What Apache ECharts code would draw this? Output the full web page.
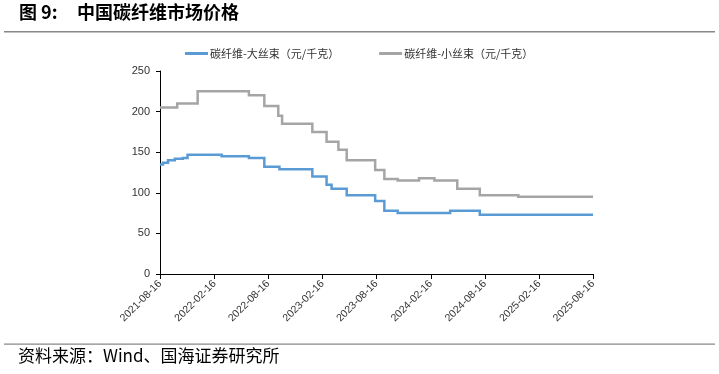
<!DOCTYPE html>
<html>
<head>
<meta charset="utf-8">
<script src="https://cdn.jsdelivr.net/npm/echarts@6/dist/echarts.min.js"></script>
<style>
html,body{margin:0;padding:0;background:#fff;}
#chart{width:719px;height:374px;}
</style>
</head>
<body>
<div id="chart"></div>
<script>
// Axis range and tick labels
var startDate = '2021-08-16';
var endDate = '2025-08-16';
var tickLabels = ['2021-08-16','2022-02-16','2022-08-16','2023-02-16','2023-08-16','2024-02-16','2024-08-16','2025-02-16','2025-08-16'];

// Series names
var seriesNames = ['碳纤维-大丝束（元/千克）', '碳纤维-小丝束（元/千克）'];
var seriesColors = ['#5B9BD5', '#A5A5A5'];

// Large tow (大丝束) price change points
var largeDates = ['2021-08-16','2021-08-26','2021-09-12','2021-10-05','2021-11-01','2021-11-17','2022-03-12','2022-06-12','2022-08-03','2022-09-23','2023-01-12','2023-03-01','2023-03-18','2023-05-08','2023-08-12','2023-09-12','2023-10-27','2024-04-21','2024-07-30','2025-08-16'];
var largeValues = [135,137,140,142,143,147,145,143,132,129,120,110,105,97,90,78,75,78,73,73];

// Small tow (小丝束) price change points
var smallDates = ['2021-08-16','2021-10-13','2021-12-21','2022-06-12','2022-08-03','2022-09-19','2022-10-02','2023-01-12','2023-03-01','2023-04-10','2023-05-08','2023-08-12','2023-09-12','2023-10-27','2024-01-07','2024-02-28','2024-05-15','2024-07-30','2024-12-07','2025-08-16'];
var smallValues = [205,210,225,220,207,195,185,175,163,153,140,128,117,115,118,115,105,97,95,95];

// daily category list for the date axis
function fmt(d){var m=d.getUTCMonth()+1, day=d.getUTCDate();return d.getUTCFullYear()+'-'+(m<10?'0':'')+m+'-'+(day<10?'0':'')+day;}
var categories = [];
(function(){
  var d = new Date(startDate+'T00:00:00Z'), e = new Date(endDate+'T00:00:00Z');
  while (d <= e) { categories.push(fmt(d)); d = new Date(d.getTime()+86400000); }
})();
var tickSet = {};
tickLabels.forEach(function(t){tickSet[t]=true;});
function isTick(idx, val){ return !!tickSet[val]; }

// step path through the change points (value holds until the next change date)
function stepCoords(ds, vs){
  var out = [];
  for (var i=0;i<ds.length;i++){
    var ix = categories.indexOf(ds[i]);
    if (i>0) out.push([ix, vs[i-1]]);
    out.push([ix, vs[i]]);
  }
  return out;
}

var chart = echarts.init(document.getElementById('chart'), null, {renderer:'canvas'});
var txtFont = 'Arial, "Liberation Sans", "Noto Sans CJK SC", sans-serif';
chart.setOption({
  animation:false,
  backgroundColor:'#fff',
  grid:{left:160, right:126, top:71, bottom:100, containLabel:false},
  legend:{
    top:43, left:180,
    itemWidth:23, itemHeight:3, itemGap:40,
    icon:'rect',
    itemStyle:{borderWidth:0},
    textStyle:{fontSize:11, color:'#333', fontFamily:'"Noto Sans CJK SC", sans-serif', padding:[0,0,0,-3]},
    data:[
      {name:seriesNames[0], itemStyle:{color:seriesColors[0], borderWidth:0}},
      {name:seriesNames[1], itemStyle:{color:seriesColors[1], borderWidth:0}}
    ]
  },
  xAxis:{
    type:'category',
    data:categories,
    boundaryGap:false,
    axisLine:{lineStyle:{color:'#000', width:1}},
    axisTick:{show:true, interval:isTick, length:5, lineStyle:{color:'#000'}},
    axisLabel:{interval:isTick, rotate:45, fontSize:10.5, color:'#333', fontFamily:txtFont, margin:8, showMaxLabel:true},
    splitLine:{show:false}
  },
  yAxis:{
    type:'value', min:0, max:250, interval:50,
    axisLine:{show:true, lineStyle:{color:'#000', width:1}},
    axisTick:{show:true, length:4, lineStyle:{color:'#000'}},
    axisLabel:{fontSize:11, color:'#333', fontFamily:txtFont, margin:10},
    splitLine:{show:false}
  },
  series:[
    {name:seriesNames[0], type:'lines', coordinateSystem:'cartesian2d', polyline:true,
     data:[{coords:stepCoords(largeDates, largeValues)}],
     lineStyle:{color:seriesColors[0], width:2.5, opacity:1, join:'miter'}, itemStyle:{color:seriesColors[0]}},
    {name:seriesNames[1], type:'lines', coordinateSystem:'cartesian2d', polyline:true,
     data:[{coords:stepCoords(smallDates, smallValues)}],
     lineStyle:{color:seriesColors[1], width:2.5, opacity:1, join:'miter'}, itemStyle:{color:seriesColors[1]}}
  ],
  graphic:[
    {type:'text', left:19, top:3, style:{text:'图 9:', font:'bold 18px "Noto Sans CJK SC", sans-serif', fill:'#000'}},
    {type:'text', left:77, top:3, style:{text:'中国碳纤维市场价格', font:'bold 18px "Noto Sans CJK SC", sans-serif', fill:'#000'}},
    {type:'rect', shape:{x:4, y:31, width:711, height:1.5}, style:{fill:'#888'}},
    {type:'rect', shape:{x:4, y:343.5, width:711, height:1.2}, style:{fill:'#888'}},
    {type:'text', left:18, top:347, style:{text:'资料来源：Wind、国海证券研究所', font:'17px "Noto Sans CJK SC", sans-serif', fill:'#000'}}
  ]
});
</script>
</body>
</html>
